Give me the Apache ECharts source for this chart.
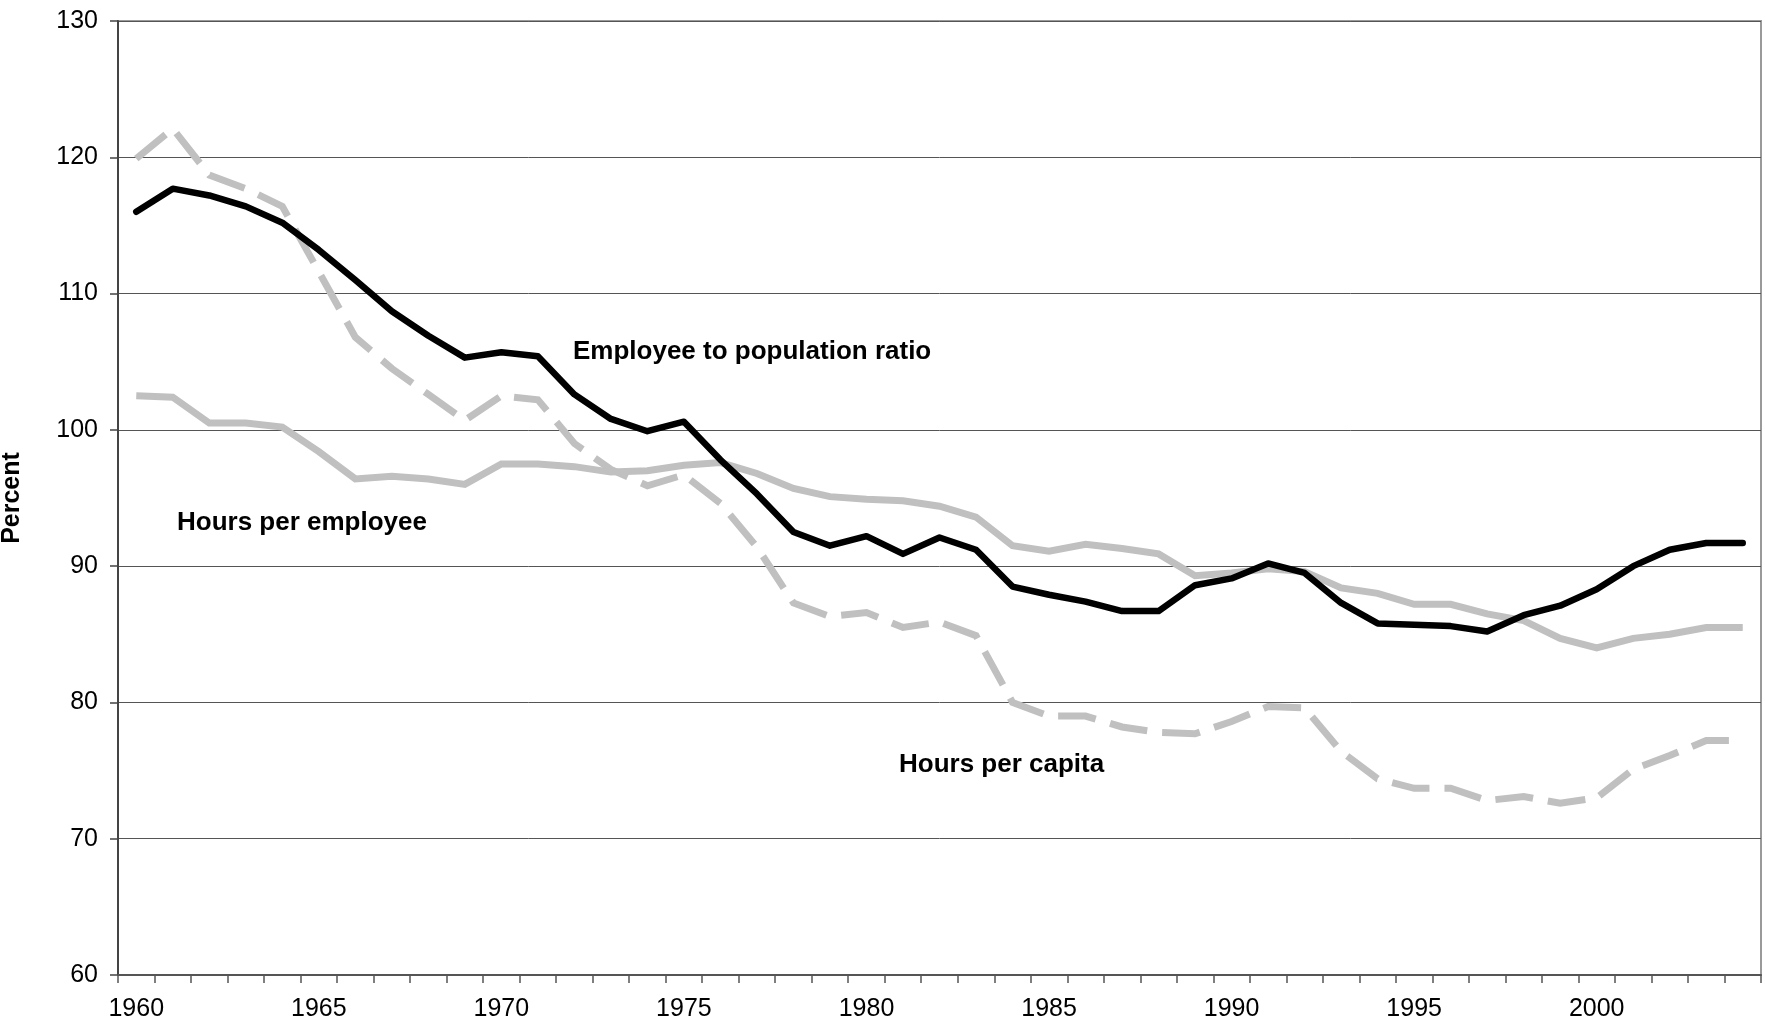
<!DOCTYPE html>
<html>
<head>
<meta charset="utf-8">
<script src="https://cdn.jsdelivr.net/npm/echarts@6/dist/echarts.min.js"></script>
<style>
html,body{margin:0;padding:0;background:#fff;}
#chart{width:1765px;height:1029px;}
</style>
</head>
<body>
<div id="chart"></div>
<script>
var years = [];
for (var y = 1960; y <= 2004; y++) years.push(String(y));

var employeeToPopulation = [116.0,117.7,117.2,116.4,115.2,113.2,111.0,108.7,106.9,105.3,105.7,105.4,102.6,100.8,99.9,100.6,97.8,95.3,92.5,91.5,92.2,90.9,92.1,91.2,88.5,87.9,87.4,86.7,86.7,88.6,89.1,90.2,89.5,87.3,85.8,85.7,85.6,85.2,86.4,87.1,88.3,90.0,91.2,91.7,91.7];
var hoursPerEmployee = [102.5,102.4,100.5,100.5,100.2,98.4,96.4,96.6,96.4,96.0,97.5,97.5,97.3,96.9,97.0,97.4,97.6,96.8,95.7,95.1,94.9,94.8,94.4,93.6,91.5,91.1,91.6,91.3,90.9,89.3,89.5,89.8,89.6,88.4,88.0,87.2,87.2,86.5,86.0,84.7,84.0,84.7,85.0,85.5,85.5];
var hoursPerCapita = [119.9,122.1,118.7,117.7,116.4,111.6,106.8,104.5,102.6,100.7,102.5,102.2,99.0,97.1,95.9,96.7,94.6,91.4,87.3,86.3,86.6,85.5,85.9,84.9,80.0,79.0,79.0,78.2,77.8,77.7,78.6,79.7,79.6,76.4,74.4,73.7,73.7,72.8,73.1,72.6,73.0,75.1,76.1,77.2,77.2];

var yTicks = {min: 60, max: 130, interval: 10};
var annotations = [
  {text: 'Employee to population ratio', left: 573, top: 339},
  {text: 'Hours per employee', left: 177, top: 510},
  {text: 'Hours per capita', left: 899, top: 752}
];

var FONT = '"Liberation Sans", Arial, sans-serif';
var chart = echarts.init(document.getElementById('chart'), null, {renderer: 'canvas'});
chart.setOption({
  animation: false,
  backgroundColor: '#ffffff',
  grid: {left: 118, right: 4, top: 21, bottom: 54, show: true, borderColor: '#9a9a9a', borderWidth: 2, backgroundColor: 'transparent', containLabel: false, outerBoundsMode: 'none'},
  xAxis: {
    type: 'category',
    data: years,
    boundaryGap: true,
    axisLine: {show: true, lineStyle: {color: '#555', width: 2}},
    axisTick: {show: true, interval: 0, length: 8, lineStyle: {color: '#555', width: 1.5}},
    axisLabel: {interval: 4, fontFamily: FONT, fontSize: 25, color: '#000', margin: 22},
    splitLine: {show: false}
  },
  yAxis: {
    type: 'value',
    min: yTicks.min, max: yTicks.max, interval: yTicks.interval,
    name: 'Percent',
    nameLocation: 'middle',
    nameRotate: 90,
    nameGap: 93,
    nameTextStyle: {fontFamily: FONT, fontSize: 25, fontWeight: 'bold', color: '#000'},
    axisLine: {show: true, lineStyle: {color: '#444', width: 2}},
    axisTick: {show: true, length: 8, lineStyle: {color: '#444', width: 1.5}},
    axisLabel: {fontFamily: FONT, fontSize: 25, color: '#000', margin: 20},
    splitLine: {show: true, lineStyle: {color: '#555', width: 1}}
  },
  series: [
    {
      name: 'Hours per capita', type: 'line', data: hoursPerCapita,
      symbol: 'none', smooth: false, z: 2,
      lineStyle: {color: '#c0c0c0', width: 7, type: [38, 15], cap: 'butt', join: 'miter'}
    },
    {
      name: 'Hours per employee', type: 'line', data: hoursPerEmployee,
      symbol: 'none', smooth: false, z: 3,
      lineStyle: {color: '#c0c0c0', width: 7, type: 'solid', cap: 'butt', join: 'miter'}
    },
    {
      name: 'Employee to population ratio', type: 'line', data: employeeToPopulation,
      symbol: 'none', smooth: false, z: 4,
      lineStyle: {color: '#000000', width: 6.5, type: 'solid', cap: 'round', join: 'round'}
    }
  ],
  graphic: annotations.map(function (a) {
    return {type: 'text', left: a.left, top: a.top, z: 10,
      style: {text: a.text, fontFamily: FONT, fontSize: 26, fontWeight: 'bold', fill: '#000'}};
  })
});
</script>
</body>
</html>
